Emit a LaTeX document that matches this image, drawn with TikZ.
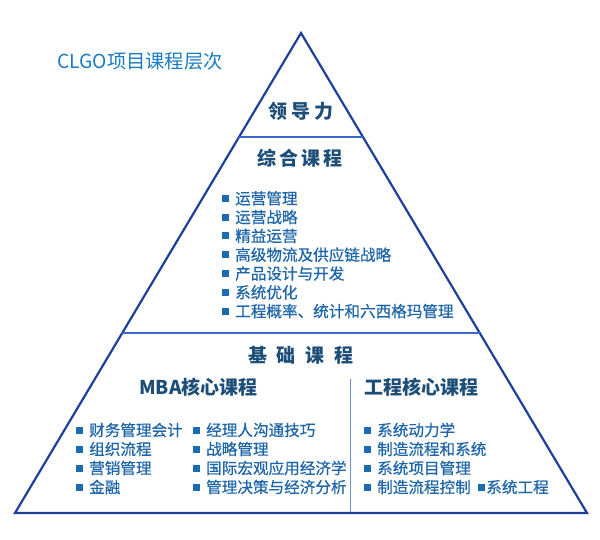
\documentclass[tikz,border=0pt]{standalone}
\usepackage{fontspec}
\setmainfont{Noto Sans CJK SC}
\usetikzlibrary{calc}
\definecolor{trib}{HTML}{1F3F9C}
\definecolor{sepb}{HTML}{3A6BC4}
\definecolor{divb}{HTML}{6E8FCF}
\definecolor{titc}{HTML}{1A7CC2}
\definecolor{hdrc}{HTML}{1C4E78}
\definecolor{itmc}{HTML}{1E66A8}
\definecolor{bulc}{HTML}{1B6BB3}
\newcommand\bul{\textcolor{bulc}{\raisebox{2.4pt}{\rule{7pt}{7pt}}}\hspace{6.5pt}}
\begin{document}
\begin{tikzpicture}[x=1pt,y=-1pt,
  hdr/.style={inner sep=0pt,text=hdrc,font=\fontsize{19}{19}\selectfont\bfseries},
  itm/.style={inner sep=0pt,anchor=west,text=itmc,font=\fontsize{15.6}{15.6}\selectfont\addfontfeature{FakeBold=0.6}},
  tri/.style={draw=trib,line width=2.2pt,line join=miter},
  sepl/.style={draw=sepb,line width=1.4pt},
  divl/.style={draw=divb,line width=0.9pt}]
\useasboundingbox (0,0) rectangle (600,539);
% triangle
\coordinate (A) at (301,33);
\coordinate (BL) at (15,513);
\coordinate (BR) at (587,513);
\draw[tri] (A) -- (BL) -- (BR) -- cycle;
\coordinate (L1) at ($(A)!0.2167!(BL)$);
\coordinate (R1) at ($(A)!0.2167!(BR)$);
\coordinate (L2) at ($(A)!0.625!(BL)$);
\coordinate (R2) at ($(A)!0.625!(BR)$);
\draw[sepl] (L1) -- (R1);
\draw[sepl] (L2) -- (R2);
\coordinate (DT) at (350,379);
\coordinate (DB) at (350,512);
\draw[divl] (DT) -- (DB);
% title
\node[inner sep=0pt,anchor=west,text=titc,font=\fontsize{19.3}{19.3}\selectfont] (title) at (57,61) {CLGO项目课程层次};
% headers
\node[hdr] (lead) at (301,111) {领\hspace{4pt}导\hspace{4pt}力};
\node[hdr] (synth) at (300,158) {综\hspace{3pt}合\hspace{3pt}课\hspace{3pt}程};
\node[hdr] (base) at (301,355) {基\hspace{10pt}础\hspace{10pt}课\hspace{10pt}程};
\node[hdr,anchor=west] (mba) at (139,387) {MBA核心课程};
\node[hdr,anchor=west] (eng) at (364,387) {工程核心课程};
% synthesis items
\node[itm] (s1) at (221.5,198.3) {\bul 运营管理};
\node[itm] (s2) at (221.5,217.1) {\bul 运营战略};
\node[itm] (s3) at (221.5,235.9) {\bul 精益运营};
\node[itm] (s4) at (221.5,254.7) {\bul 高级物流及供应链战略};
\node[itm] (s5) at (221.5,273.5) {\bul 产品设计与开发};
\node[itm] (s6) at (221.5,292.3) {\bul 系统优化};
\node[itm] (s7) at (221.5,311.1) {\bul 工程概率、统计和六西格玛管理};
% MBA column 1
\node[itm] (m1) at (75.5,430) {\bul 财务管理会计};
\node[itm] (m2) at (75.5,449) {\bul 组织流程};
\node[itm] (m3) at (75.5,468) {\bul 营销管理};
\node[itm] (m4) at (75.5,487) {\bul 金融};
% MBA column 2
\node[itm] (n1) at (192.5,430) {\bul 经理人沟通技巧};
\node[itm] (n2) at (192.5,449) {\bul 战略管理};
\node[itm] (n3) at (192.5,468) {\bul 国际宏观应用经济学};
\node[itm] (n4) at (192.5,487) {\bul 管理决策与经济分析};
% engineering column
\node[itm] (e1) at (363.5,430) {\bul 系统动力学};
\node[itm] (e2) at (363.5,449) {\bul 制造流程和系统};
\node[itm] (e3) at (363.5,468) {\bul 系统项目管理};
\node[itm] (e4) at (363.5,487) {\bul 制造流程控制\hspace{7pt}\textcolor{bulc}{\raisebox{2.4pt}{\rule{7pt}{7pt}}}\hspace{1.5pt}系统工程};
\end{tikzpicture}
\end{document}
